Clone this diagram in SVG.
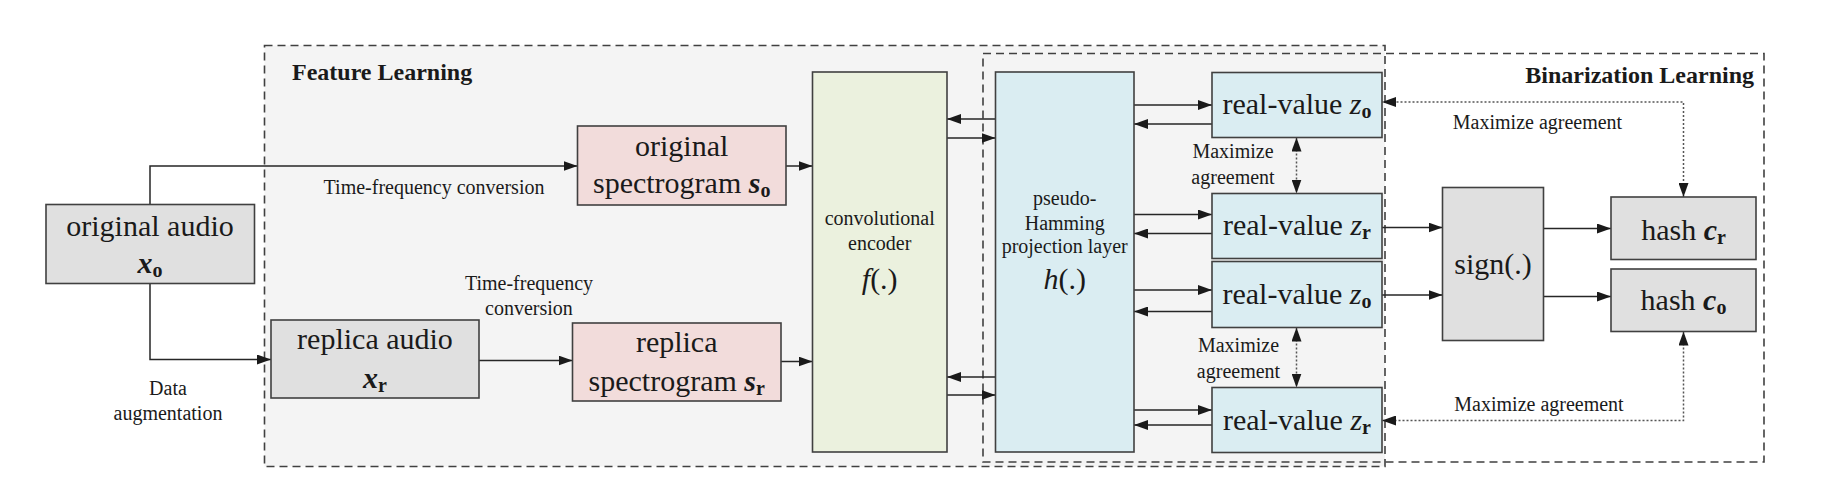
<svg xmlns="http://www.w3.org/2000/svg" width="1823" height="487" viewBox="0 0 1823 487">
<style>
text{font-family:"Liberation Serif","Times New Roman",serif;fill:#1a1a1a}
.t30{font-size:30px;text-anchor:middle}
.t20{font-size:20px;text-anchor:middle}
.ttl{font-size:24px;font-weight:bold}
.sub{font-size:20px;font-weight:bold;font-style:normal}
.bi{font-weight:bold;font-style:italic}
.it{font-style:italic}
.box{stroke:#404040;stroke-width:1.6}
.gray{fill:#e0e0e0}
.pink{fill:#f2dcdb}
.green{fill:#ebf1de}
.blue{fill:#daedf2}
.region{stroke:#404040;stroke-width:1.6;stroke-dasharray:8,5}
.conn path{fill:none;stroke:#262626;stroke-width:1.5}
.conn path.a{marker-end:url(#ah)}
.conn path.dot{stroke:#555;stroke-dasharray:2,2;marker-start:url(#ah);marker-end:url(#ah)}
</style>
<defs>
<marker id="ah" markerUnits="userSpaceOnUse" markerWidth="14" markerHeight="10" refX="14" refY="5" orient="auto-start-reverse">
<path d="M0,0 L14,5 L0,10 z" fill="#1a1a1a"/>
</marker>
</defs>
<rect width="1823" height="487" fill="#ffffff"/>
<g id="feature-learning">
<rect class="region" x="264.5" y="45.5" width="1120.5" height="421" fill="#f4f4f4"/>
<text class="ttl" x="292" y="80">Feature Learning</text>
</g>
<g id="binarization-learning">
<rect class="region" x="983" y="53.5" width="781" height="408.5" fill="none"/>
<text class="ttl" x="1754" y="83" text-anchor="end">Binarization Learning</text>
</g>
<g class="conn" id="connectors">
<path class="a" d="M150,204.5 V166 H577.5"/>
<path class="a" d="M150,283.5 V359.5 H271"/>
<path class="a" d="M479,360.5 H572.5"/>
<path class="a" d="M786,166 H812.5"/>
<path class="a" d="M781,361.5 H812.5"/>
<path class="a" d="M995.5,119 H947"/>
<path class="a" d="M947,138 H995.5"/>
<path class="a" d="M995.5,377 H947"/>
<path class="a" d="M947,395 H995.5"/>
<path class="a" d="M1134,105 H1212"/>
<path class="a" d="M1212,124 H1134"/>
<path class="a" d="M1134,214.5 H1212"/>
<path class="a" d="M1212,233.5 H1134"/>
<path class="a" d="M1134,290 H1212"/>
<path class="a" d="M1212,311.5 H1134"/>
<path class="a" d="M1134,410 H1212"/>
<path class="a" d="M1212,425 H1134"/>
<path class="a" d="M1382,227.5 H1442.5"/>
<path class="a" d="M1382,295 H1442.5"/>
<path class="a" d="M1543.5,228.5 H1611"/>
<path class="a" d="M1543.5,296.5 H1611"/>
<path class="dot" d="M1296.5,137.5 V193.5"/>
<path class="dot" d="M1296.5,327.5 V387.5"/>
<path class="dot" d="M1683.5,197 V102 H1382"/>
<path class="dot" d="M1683.5,331.5 V420.5 H1382"/>
</g>
<g id="labels">
<text class="t20" x="434" y="194">Time-frequency conversion</text>
<text class="t20" x="168" y="395">Data</text>
<text class="t20" x="168" y="420">augmentation</text>
<text class="t20" x="529" y="290">Time-frequency</text>
<text class="t20" x="529" y="315">conversion</text>
<text class="t20" x="1233" y="158">Maximize</text>
<text class="t20" x="1233" y="184">agreement</text>
<text class="t20" x="1238.5" y="352">Maximize</text>
<text class="t20" x="1238.5" y="378">agreement</text>
<text class="t20" x="1537.5" y="128.5">Maximize agreement</text>
<text class="t20" x="1539" y="410.5">Maximize agreement</text>
</g>
<g id="original-audio">
<rect class="box gray" x="46" y="204.5" width="208.5" height="79"/>
<text class="t30" x="150" y="235.5">original audio</text>
<text class="t30" x="150" y="273"><tspan class="bi">x</tspan><tspan class="sub" dy="4">o</tspan></text>
</g>
<g id="replica-audio">
<rect class="box gray" x="271" y="320" width="208" height="78"/>
<text class="t30" x="375" y="348.5">replica audio</text>
<text class="t30" x="375" y="388"><tspan class="bi">x</tspan><tspan class="sub" dy="4">r</tspan></text>
</g>
<g id="original-spectrogram">
<rect class="box pink" x="577.5" y="126" width="208.5" height="79"/>
<text class="t30" x="681.7" y="156">original</text>
<text class="t30" x="681.7" y="193">spectrogram <tspan class="bi">s</tspan><tspan class="sub" dy="4">o</tspan></text>
</g>
<g id="replica-spectrogram">
<rect class="box pink" x="572.5" y="323" width="208.5" height="78"/>
<text class="t30" x="676.7" y="352">replica</text>
<text class="t30" x="676.7" y="391">spectrogram <tspan class="bi">s</tspan><tspan class="sub" dy="4">r</tspan></text>
</g>
<g id="convolutional-encoder">
<rect class="box green" x="812.5" y="72" width="134.5" height="380"/>
<text class="t20" x="879.7" y="225">convolutional</text>
<text class="t20" x="879.7" y="249.5">encoder</text>
<text class="t30" x="879.7" y="288.5"><tspan class="it">f</tspan>(.)</text>
</g>
<g id="pseudo-hamming">
<rect class="box blue" x="995.5" y="72" width="138.5" height="380"/>
<text class="t20" x="1064.7" y="205">pseudo-</text>
<text class="t20" x="1064.7" y="229.5">Hamming</text>
<text class="t20" x="1064.7" y="253">projection layer</text>
<text class="t30" x="1064.7" y="288.5"><tspan class="it">h</tspan>(.)</text>
</g>
<g id="real-value-zo-1">
<rect class="box blue" x="1212" y="72.5" width="170" height="65"/>
<text class="t30" x="1297" y="113.5">real-value <tspan class="it">z</tspan><tspan class="sub" dy="4">o</tspan></text>
</g>
<g id="real-value-zr-1">
<rect class="box blue" x="1212" y="193.5" width="170" height="65"/>
<text class="t30" x="1297" y="235">real-value <tspan class="it">z</tspan><tspan class="sub" dy="4">r</tspan></text>
</g>
<g id="real-value-zo-2">
<rect class="box blue" x="1212" y="261.5" width="170" height="66"/>
<text class="t30" x="1297" y="304">real-value <tspan class="it">z</tspan><tspan class="sub" dy="4">o</tspan></text>
</g>
<g id="real-value-zr-2">
<rect class="box blue" x="1212" y="387.5" width="170" height="65"/>
<text class="t30" x="1297" y="430">real-value <tspan class="it">z</tspan><tspan class="sub" dy="4">r</tspan></text>
</g>
<g id="sign">
<rect class="box gray" x="1442.5" y="187.5" width="101" height="153"/>
<text class="t30" x="1493" y="273.5">sign(.)</text>
</g>
<g id="hash-cr">
<rect class="box gray" x="1611" y="197" width="145" height="62.5"/>
<text class="t30" x="1683.5" y="240">hash <tspan class="bi">c</tspan><tspan class="sub" dy="4">r</tspan></text>
</g>
<g id="hash-co">
<rect class="box gray" x="1611" y="269" width="145" height="62.5"/>
<text class="t30" x="1683.5" y="310">hash <tspan class="bi">c</tspan><tspan class="sub" dy="4">o</tspan></text>
</g>
</svg>
